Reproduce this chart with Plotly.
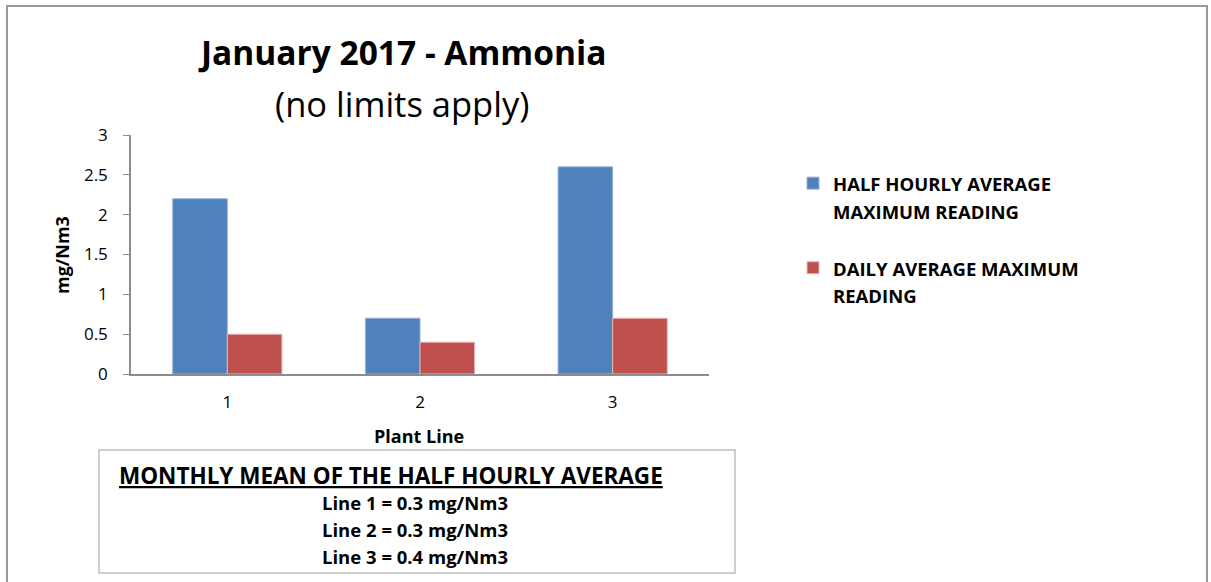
import plotly.graph_objects as go

categories = ["1", "2", "3"]
half_hourly_max = [2.2, 0.7, 2.6]
daily_avg_max = [0.5, 0.4, 0.7]
series_names = ["HALF HOURLY AVERAGE<br>MAXIMUM READING", "DAILY AVERAGE MAXIMUM<br>READING"]
y_ticks = [0, 0.5, 1, 1.5, 2, 2.5, 3]
y_tick_labels = ["0", "0.5", "1", "1.5", "2", "2.5", "3"]
mean_lines = ["Line 1 = 0.3 mg/Nm3", "Line 2 = 0.3 mg/Nm3", "Line 3 = 0.4 mg/Nm3"]

W, H = 1211, 582
FONT = "Open Sans"
GRAY = "#8c8c8c"

def px(x):
    return x / W

def py(y):
    return 1 - y / H

def leg(t):
    return "<span style='font-size:18.5px'>" + t + "</span>"

fig = go.Figure()
fig.add_trace(go.Bar(x=categories, y=half_hourly_max, name=leg(series_names[0]), legendgroup="a",
                     marker=dict(color="#4F81BD", line=dict(color="#95B3D7", width=1))))
fig.add_trace(go.Bar(x=categories, y=daily_avg_max, name=leg(series_names[1]), legendgroup="b",
                     marker=dict(color="#C0504D", line=dict(color="#E6B9B8", width=1))))

fig.update_layout(
    width=W, height=H,
    margin=dict(l=0, r=0, t=0, b=0, autoexpand=False),
    paper_bgcolor="white", plot_bgcolor="white",
    font=dict(family=FONT, color="black", size=17),
    barmode="group", bargap=0.433, bargroupgap=0,
    showlegend=True,
    legend=dict(x=px(793), y=py(163), xanchor="left", yanchor="top",
                font=dict(family=FONT, size=21, color="black", weight="bold"),
                valign="top", tracegroupgap=27, itemclick=False, traceorder="grouped",
                bgcolor="rgba(0,0,0,0)"),
    xaxis=dict(domain=[px(131), px(709)], showline=True, linecolor=GRAY, linewidth=1.5,
               ticks="", showgrid=False, tickfont=dict(size=17, family=FONT),
               ticklabelstandoff=12, automargin=False),
    yaxis=dict(domain=[py(374), py(135)], range=[0, 3], tickvals=y_ticks, ticktext=y_tick_labels,
               showline=True, linecolor=GRAY, linewidth=1.5, ticks="outside", ticklen=6,
               tickcolor=GRAY, tickwidth=1, showgrid=False, zeroline=False,
               tickfont=dict(size=17, family=FONT), ticklabelstandoff=12, automargin=False),
)

shapes = [
    dict(type="rect", xref="paper", yref="paper", x0=px(7), x1=px(1207), y0=py(600), y1=py(6),
         line=dict(color="#999999", width=2), fillcolor="rgba(0,0,0,0)", layer="below"),
    dict(type="rect", xref="paper", yref="paper", x0=px(99), x1=px(735), y0=py(573), y1=py(450),
         line=dict(color="#bfbfbf", width=1.5), fillcolor="rgba(0,0,0,0)", layer="below"),
]
fig.update_layout(shapes=shapes)

ann = [
    dict(text="<b>January 2017 - Ammonia</b>", x=px(402), y=py(52), font=dict(size=33.5, family=FONT)),
    dict(text="(no limits apply)", x=px(402), y=py(103), font=dict(size=34.5, family=FONT)),
    dict(text="<b>Plant Line</b>", x=px(419), y=py(436), font=dict(size=18, family=FONT)),
    dict(text="<b>mg/Nm3</b>", x=px(62), y=py(255), textangle=-90, font=dict(size=18, family=FONT)),
    dict(text="<b><u>MONTHLY MEAN OF THE HALF HOURLY AVERAGE</u></b>", x=px(117), y=py(475),
         xanchor="left", font=dict(size=22.5, family=FONT)),
]
for i, t in enumerate(mean_lines):
    ann.append(dict(text="<b>" + t + "</b>", x=px(415), y=py(502 + 27 * i), font=dict(size=18.5, family=FONT)))
for a in ann:
    a.update(xref="paper", yref="paper", showarrow=False, yanchor="middle",
             xanchor=a.get("xanchor", "center"))
fig.update_layout(annotations=ann)

fig.write_html("out.html", config={"displayModeBar": False},
               post_script="document.body.style.margin='0';document.body.style.overflow='hidden';")
